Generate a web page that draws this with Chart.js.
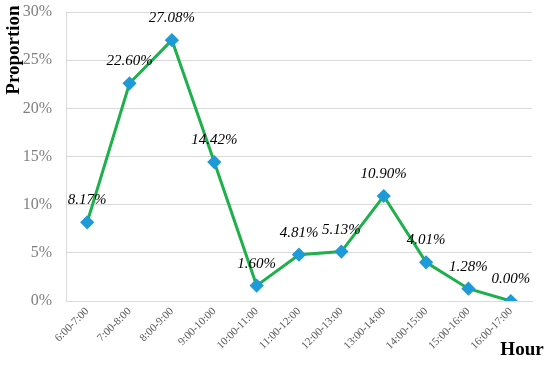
<!DOCTYPE html>
<html>
<head>
<meta charset="utf-8">
<script src="https://cdn.jsdelivr.net/npm/chart.js@4"></script>
<style>
  html, body { margin: 0; padding: 0; background: #fff; }
  #wrap { width: 550px; height: 365px; position: relative; }
</style>
</head>
<body>
<div id="wrap"><canvas id="grafico"></canvas></div>
<script>
const horas = ["6:00-7:00", "7:00-8:00", "8:00-9:00", "9:00-10:00", "10:00-11:00", "11:00-12:00",
  "12:00-13:00", "13:00-14:00", "14:00-15:00", "15:00-16:00", "16:00-17:00"];
const proporcion = [8.17, 22.60, 27.08, 14.42, 1.60, 4.81, 5.13, 10.90, 4.01, 1.28, 0.00];

// etiquetas de datos y titulos de ejes
const textos = {
  id: "textos",
  afterDatasetsDraw(chart) {
    const ctx = chart.ctx;
    const meta = chart.getDatasetMeta(0);
    ctx.save();
    ctx.fillStyle = "#000";
    ctx.font = "italic 15px 'Liberation Serif'";
    ctx.textAlign = "center";
    ctx.textBaseline = "middle";
    meta.data.forEach((p, i) => {
      ctx.fillText(proporcion[i].toFixed(2) + "%", p.x, p.y - 22);
    });
    ctx.font = "bold 19px 'Liberation Serif'";
    ctx.fillText("Hour", 522, 350);
    ctx.translate(14, 50);
    ctx.rotate(-Math.PI / 2);
    ctx.fillText("Proportion", 0, 0);
    ctx.restore();
  }
};

new Chart(document.getElementById("grafico"), {
  type: "line",
  data: {
    labels: horas,
    datasets: [{
      data: proporcion,
      borderColor: "#1DB04B",
      borderWidth: 3,
      pointStyle: "rectRot",
      pointRadius: 5,
      pointBackgroundColor: "#1E9BD7",
      pointBorderColor: "#1E9BD7",
      tension: 0
    }]
  },
  options: {
    responsive: true,
    maintainAspectRatio: false,
    animation: false,
    layout: { padding: { top: 12, right: 18, left: 0, bottom: 0 } },
    plugins: { legend: { display: false }, tooltip: { enabled: false } },
    scales: {
      x: {
        offset: true,
        grid: { display: false, drawTicks: false },
        border: { color: "#d9d9d9" },
        ticks: {
          minRotation: 45, maxRotation: 45,
          color: "#595959",
          font: { family: "'Liberation Serif'", size: 11 },
          padding: 4
        },
        afterFit(s) { s.height = 64; s.paddingLeft = 0; s.paddingRight = 0; }
      },
      y: {
        min: 0, max: 30,
        grid: { color: "#d9d9d9", drawTicks: false },
        border: { color: "#d9d9d9" },
        ticks: {
          stepSize: 5,
          color: "#808080",
          font: { family: "'Liberation Serif'", size: 16 },
          padding: 14,
          callback: v => v + "%"
        },
        afterFit(s) { s.width = 66; s.paddingTop = 0; s.paddingBottom = 0; }
      }
    }
  },
  plugins: [textos]
});
</script>
</body>
</html>
